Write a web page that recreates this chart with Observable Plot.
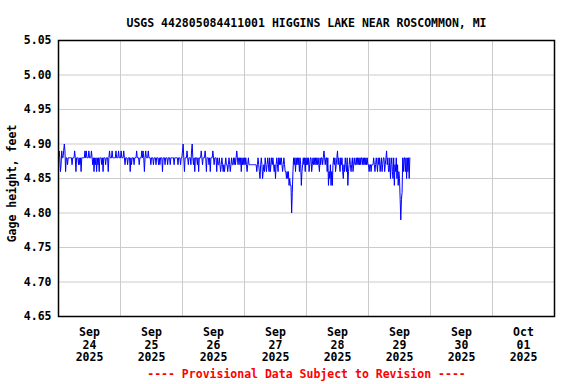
<!DOCTYPE html>
<html><head><meta charset="utf-8">
<script src="https://cdn.jsdelivr.net/npm/d3@7"></script>
<script src="https://cdn.jsdelivr.net/npm/@observablehq/plot@0.6"></script>
<style>body{margin:0;background:#fff}</style>
</head><body><div id="chart"></div>
<script>
const title = "USGS 442805084411001 HIGGINS LAKE NEAR ROSCOMMON, MI";
const caption = "---- Provisional Data Subject to Revision ----";
const yLabel = "Gage height, feet";
const yTicks = [4.65, 4.70, 4.75, 4.80, 4.85, 4.90, 4.95, 5.00, 5.05];
const dayStarts = ["2025-09-24","2025-09-25","2025-09-26","2025-09-27","2025-09-28","2025-09-29","2025-09-30","2025-10-01","2025-10-02"];

// 15-minute gage readings, hundredths of a foot above 4.00 ft
const sep24 = [88,89,88,86,87,89,88,88, 89,90,89,86,88,88,87,88, 88,88,88,88,88,87,88,88, 88,89,88,86,88,88,88,87,
  88,87,88,86,88,88,88,88, 88,89,88,89,88,88,88,89, 88,88,88,89,88,87,88,86, 88,87,88,86,88,87,88,86,
  88,88,88,87,88,86,88,88, 88,87,88,88,88,86,88,89, 88,88,88,89,88,88,88,88, 88,89,88,88,88,89,88,88];
const sep25 = [88,89,88,88,88,89,88,87, 88,88,88,87,88,88,88,86, 88,87,88,88,88,87,88,88, 88,89,88,88,88,87,88,88,
  88,89,88,89,88,86,88,89, 88,88,88,89,88,88,88,87, 88,88,88,87,88,88,88,87, 88,88,88,87,88,87,88,88,
  88,86,88,88,88,87,88,88, 88,87,88,88,88,87,88,88, 88,88,88,87,88,88,88,88, 88,87,88,88,88,87,88,88];
const sep26 = [89,90,88,86,88,88,88,89, 88,87,88,88,88,87,89,90, 88,87,88,86,88,88,88,87, 88,86,88,88,88,89,88,87,
  88,88,88,89,88,86,88,88, 88,87,88,86,88,88,88,89, 88,87,88,88,88,86,88,87, 87,88,87,86,87,88,87,86,
  87,86,87,88,87,87,86,87, 88,87,86,87,88,87,87,88, 87,88,87,88,89,88,87,88, 88,87,88,86,88,87,88,87];
const sep27 = [88,87,88,87,86,87,88,87, 87,87,87,87,87,87,87,87, 87,87,87,86,87,88,87,86, 85,87,88,87,85,86,87,86,
  88,87,86,87,88,87,86,88, 86,87,88,87,88,87,86,87, 85,87,88,87,86,88,87,88, 87,88,87,86,87,88,87,86,
  86,85,86,85,86,84,85,84, 84,80,83,86,88,87,88,86, 88,87,88,87,88,86,88,87, 84,86,87,88,87,88,86,88];
const sep28 = [87,88,87,88,86,87,88,88, 86,87,88,87,88,87,88,87, 88,87,88,87,86,88,87,88, 88,87,88,89,88,87,88,88,
  86,88,84,86,85,87,84,86, 84,87,88,87,88,86,87,88, 89,87,88,87,86,88,87,88, 86,85,87,86,88,87,86,88,
  84,86,87,88,87,86,87,88, 86,87,88,87,87,88,87,88, 87,88,87,88,87,88,88,87, 88,87,88,87,88,87,88,87];
const sep29 = [87,86,87,87,86,87,87,87, 88,87,86,87,88,87,86,88, 87,88,86,87,88,86,87,88, 88,86,87,88,89,87,88,86,
  86,88,85,87,88,86,85,88, 84,87,86,88,85,87,84,86, 85,82,79,82,83,88,86,88, 88,86,88,85,88,86,88,85, 88];

const series = [sep24, sep25, sep26, sep27, sep28, sep29];
const data = series.flatMap((vals, d) => {
  const t0 = Date.parse(dayStarts[d] + "T00:00:00Z");
  return vals.map((v, i) => ({time: new Date(t0 + i * 15 * 60000), gage: 4 + v / 100}));
});

const midnights = dayStarts.map(s => new Date(s + "T00:00:00Z"));
const noons = dayStarts.slice(0, -1).map(s => new Date(s + "T12:00:00Z"));
const fmt = d3.utcFormat("%b\n%d\n%Y");

const chart = Plot.plot({
  width: 576, height: 384,
  marginTop: 40, marginBottom: 68, marginLeft: 58, marginRight: 22,
  style: {fontFamily: "'DejaVu Sans Mono', monospace", fontSize: "11.5px", fontWeight: "bold", background: "#fff", color: "#000"},
  x: {type: "utc", domain: [midnights[0], midnights[midnights.length - 1]]},
  y: {domain: [4.65, 5.05]},
  marks: [
    Plot.gridY(yTicks.slice(1, -1), {stroke: "#cccccc", strokeOpacity: 1}),
    Plot.gridX(midnights.slice(1, -1), {stroke: "#cccccc", strokeOpacity: 1}),
    Plot.line(data, {x: "time", y: "gage", stroke: "#0000ff", strokeWidth: 1}),
    Plot.frame({stroke: "#000", strokeWidth: 1.5}),
    Plot.axisY(yTicks, {tickSize: 0, tickPadding: 7, tickFormat: d => d.toFixed(2), label: null}),
    Plot.axisX(noons, {tickSize: 0, tickPadding: 10, tickFormat: fmt, lineHeight: 1.12, label: null}),
    Plot.text([yLabel], {text: d => d, frameAnchor: "left", textAnchor: "middle", dx: -46, dy: 5, rotate: -90}),
    Plot.text([title], {text: d => d, frameAnchor: "top", dy: -22}),
    Plot.text([caption], {text: d => d, frameAnchor: "bottom", dy: 61, fill: "red"})
  ]
});
document.getElementById("chart").append(chart);
</script>
</body></html>
